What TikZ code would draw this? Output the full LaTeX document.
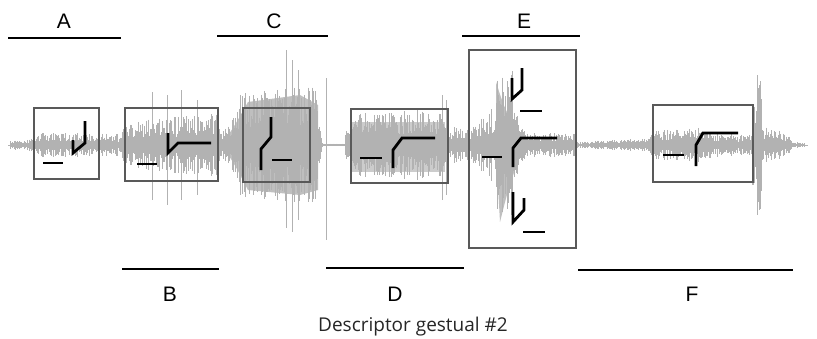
\documentclass[tikz,border=0pt]{standalone}
\usepackage{fontspec}
\setmainfont{Liberation Sans}
\newfontfamily\capfont{Open Sans}
\begin{document}
\begin{tikzpicture}[x=1pt,y=-1pt,
  wav/.style={draw=gray!60,line width=0.6pt},
  segbar/.style={line width=2.4pt,black},
  gbox/.style={draw=black!65,line width=1.4pt},
  glyph/.style={line width=2.8pt,black,line join=miter},
  lab/.style={font=\fontsize{21}{24}\selectfont,inner sep=0pt,anchor=base}]
\useasboundingbox (0,0) rectangle (817,338);
\pgfmathsetseed{7}
\newcommand\wavseg[4]{%
  \pgfmathsetmacro\nn{int(((#2)-(#1))/0.8)}%
  \foreach \i in {0,...,\nn}{%
    \pgfmathsetmacro\xx{#1+0.8*\i}%
    \pgfmathsetmacro\aa{((#3)+((#4)-(#3))*(\xx-(#1))/((#2)-(#1)))*(0.3+0.7*rnd)}%
    \draw[wav] (\xx,145-\aa) -- (\xx,145+\aa);
  }}
% dense fills
\fill[gray!50] (225,140) .. controls (235,125) .. (248,102) -- (300,95) -- (318,105) -- (318,190) -- (300,195) -- (248,190) .. controls (235,165) .. (225,150) -- cycle;
\fill[gray!50] (496,82) .. controls (505,110) .. (520,135) -- (520,155) .. controls (508,190) .. (500,222) -- (496,150) -- cycle;
\fill[gray!40] (350,122) rectangle (445,172);
\draw[gray!60,line width=0.8pt] (8,145) -- (808,145);
\wavseg{10}{28}{4}{6}
\wavseg{28}{40}{6}{10}
\wavseg{40}{118}{12}{12}
\wavseg{118}{125}{8}{20}
\wavseg{125}{220}{24}{32}
\wavseg{220}{240}{12}{40}
\wavseg{240}{318}{52}{62}
\wavseg{318}{322}{30}{4}
\wavseg{322}{345}{2}{2}
\wavseg{345}{360}{15}{32}
\wavseg{360}{445}{32}{38}
\wavseg{445}{470}{20}{15}
\wavseg{470}{496}{15}{40}
\wavseg{496}{512}{70}{80}
\wavseg{512}{525}{40}{15}
\wavseg{525}{575}{12}{12}
\wavseg{575}{650}{3}{7}
\wavseg{650}{700}{14}{18}
\wavseg{700}{752}{14}{10}
\wavseg{752}{762}{60}{70}
\wavseg{762}{790}{20}{10}
\wavseg{790}{805}{4}{2}
% tall spikes
\foreach \sx/\st/\sb in {152/92/200,167/95/205,181/90/200,197/100/195,286/50/228,292/60/232,298/70/220,326/78/240,442/95/200,446/100/195,757/75/215,759/85/210}
  \draw[gray!60,line width=0.8pt] (\sx,\st) -- (\sx,\sb);
% boxes
\draw[gbox] (34,108) rectangle (99,179);
\draw[gbox] (125,108) rectangle (218,181);
\draw[gbox] (243,108) rectangle (310,182);
\draw[gbox] (351,109) rectangle (448,183);
\draw[gbox] (469,50) rectangle (576,248);
\draw[gbox] (653,105) rectangle (753,182);
% glyphs
\draw[glyph] (43,163) -- (63,163);
\draw[glyph] (73,140) -- (73,153) -- (85,143) -- (85,121);
\draw[glyph] (137,164) -- (157,164);
\draw[glyph] (168,133) -- (168,153) -- (178,143) -- (211,143);
\draw[glyph] (271,117) -- (271,137) -- (261,149) -- (261,170);
\draw[glyph] (272,160) -- (292,160);
\draw[glyph] (360,158) -- (382,158);
\draw[glyph] (393,168) -- (393,150) -- (402,138) -- (435,138);
\draw[glyph] (512,78) -- (512,99) -- (522,90) -- (522,68);
\draw[glyph] (520,111) -- (542,111);
\draw[glyph] (482,157) -- (502,157);
\draw[glyph] (513,167) -- (513,148) -- (521,138) -- (557,138);
\draw[glyph] (513,192) -- (513,222) -- (524,210) -- (524,198);
\draw[glyph] (523,232) -- (545,232);
\draw[glyph] (663,155) -- (684,155);
\draw[glyph] (696,166) -- (696,145) -- (703,133) -- (738,133);
% segment bars
\coordinate (a1) at (8,38); \coordinate (a2) at (121,38);
\coordinate (c1) at (217,36); \coordinate (c2) at (328,36);
\coordinate (e1) at (462,36); \coordinate (e2) at (580,36);
\coordinate (b1) at (122,269); \coordinate (b2) at (219,269);
\coordinate (d1) at (326,268); \coordinate (d2) at (464,268);
\coordinate (f1) at (578,270); \coordinate (f2) at (793,270);
\draw[segbar] (a1) -- (a2);
\draw[segbar] (c1) -- (c2);
\draw[segbar] (e1) -- (e2);
\draw[segbar] (b1) -- (b2);
\draw[segbar] (d1) -- (d2);
\draw[segbar] (f1) -- (f2);
\node[lab] (la) at (64,28) {A};
\node[lab] (lc) at (274,28) {C};
\node[lab] (le) at (524,28) {E};
\node[lab] (lb) at (170,301) {B};
\node[lab] (ld) at (395,301) {D};
\node[lab] (lf) at (692,301) {F};
\node[inner sep=0pt,anchor=base,font=\capfont\fontsize{19}{22}\selectfont,text=black!85] (cap) at (413,331) {Descriptor gestual \#2};
\end{tikzpicture}
\end{document}
